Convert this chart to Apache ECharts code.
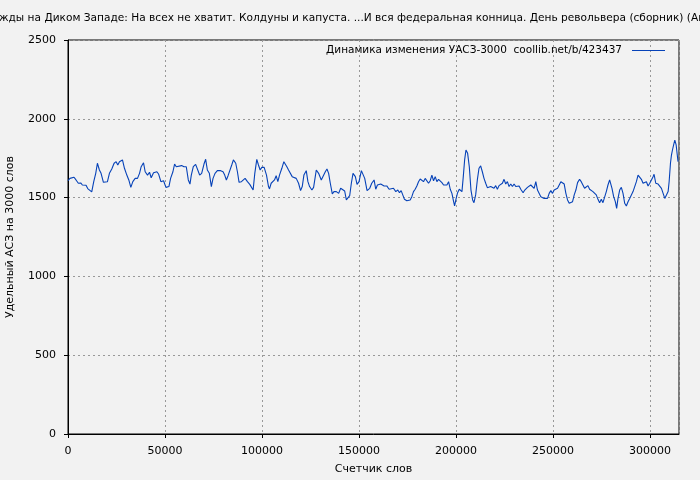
<!DOCTYPE html>
<html><head><meta charset="utf-8">
<script src="https://cdn.jsdelivr.net/npm/echarts@6/dist/echarts.min.js"></script>
<style>html,body{margin:0;padding:0;background:#f2f2f2}#c{width:700px;height:480px}</style>
</head><body><div id="c"></div>
<script>
const titleText = "жды на Диком Западе: На всех не хватит. Колдуны и капуста. ...И вся федеральная конница. День револьвера (сборник) (Ан";
const seriesName = "Динамика изменения УАСЗ-3000  coollib.net/b/423437";
const xAxisName = "Счетчик слов";
const yAxisName = "Удельный АСЗ на 3000 слов";
const xTickLabels = ["0","50000","100000","150000","200000","250000","300000"];
const yTickLabels = ["0","500","1000","1500","2000","2500"];

const wordCount = [0,1000,3100,4130,5340,6550,7410,8270,9300,10160,11020,12230,13270,14300,15160,16190,17050,18260,19120,20330,21360,22570,23770,24810,25670,26530,28080,29110,30320,31350,32390,33420,34630,35830,36870,37730,38930,39790,41000,42030,42890,44100,45820,46680,47890,49270,50480,
51160,52030,52890,54090,54950,55810,56680,58570,59780,60980,62020,62880,63570,64600,65800,66670,67870,68910,70110,70970,71840,72870,73900,74770,75800,77000,78720,79930,80790,81650,82520,83380,84410,85270,86480,87340,88200,89410,90440,91300,92510,93710,94580,95440,96300,97330,98190,99060,99920,101130,102330,103370,
103880,104740,105600,106460,107320,108180,109040,110250,111280,111970,112830,113700,114730,115590,116450,117660,118860,119900,120760,121620,122830,123690,124550,125750,126620,127480,128000,129200,130580,131440,132650,133510,134370,135230,136260,137120,138330,139540,140570,141430,142640,143500,144360,145220,146080,146940,148150,149010,150040,151250,152110,152970,154180,155560,
156590,157800,158660,159520,160380,161240,162100,162960,164340,165550,166580,167790,168990,170030,170890,171750,172610,173470,174680,176400,177260,178120,178980,179850,180710,181570,182430,183290,184150,185010,185880,186740,187600,188460,189320,190180,191040,191910,192770,193630,194490,195350,196210,197070,197930,198800,199310,200000,200860,201720,202590,203100,203790,204480,205170,206030,206890,207750,208610,209300,
210170,211030,211890,212750,213610,214470,215340,216200,217060,217920,218780,219640,220500,221360,222220,223090,223950,224810,225670,226530,227390,228250,229120,229980,230840,231700,232560,233420,234630,235490,236870,238590,239450,240310,241180,242040,242900,243760,244620,245480,246350,247210,248070,248930,249790,250650,251510,252380,253240,254100,254960,255820,256680,257540,258400,259260,260120,260980,261840,262700,
263740,264600,265460,266320,267190,268050,268910,269770,270630,271490,272350,273220,274080,274940,275800,276660,277520,278380,279240,279760,280450,281310,282170,282860,283550,284410,285270,286140,287000,287860,288720,289580,290440,291300,292170,293030,293890,294750,295610,296470,297330,298190,299050,299920,300780,301640,302150,303020,304220,305080,305950,306810,307670,308530,309390,309910,310600,311110,311630,312320,312840,313530,314500];

const uasz = [1607,1622,1629,1612,1591,1593,1580,1584,1578,1557,1559,1536,1601,1654,1718,1675,1654,1597,1591,1601,1654,1681,1718,1728,1707,1728,1739,1686,1643,1612,1565,1601,1622,1622,1654,1696,1721,1664,1643,1661,1626,1658,1664,1650,1601,1607,1565,
1555,1570,1622,1664,1713,1696,1701,1703,1696,1696,1612,1586,1643,1696,1711,1703,1643,1654,1713,1743,1675,1654,1570,1622,1654,1671,1671,1664,1643,1612,1639,1633,1707,1739,1718,1664,1597,1601,1601,1622,1601,1584,1576,1548,1654,1743,1707,1675,1692,1692,1643,1570,
1555,1591,1597,1612,1639,1601,1643,1686,1728,1739,1696,1675,1686,1633,1637,1622,1591,1544,1570,1643,1671,1601,1570,1548,1565,1633,1675,1654,1612,1601,1664,1681,1654,1591,1523,1538,1538,1527,1559,1559,1542,1485,1474,1512,1591,1654,1633,1584,1601,1671,1664,1622,1544,1559,
1591,1612,1553,1580,1570,1586,1595,1574,1574,1553,1565,1559,1538,1548,1531,1544,1538,1489,1480,1485,1506,1538,1553,1574,1601,1618,1612,1601,1622,1633,1591,1607,1643,1607,1633,1601,1616,1622,1595,1580,1570,1580,1601,1553,1527,1474,1447,1489,1531,1553,1559,1538,1633,1739,1802,1781,1696,1548,1485,1468,
1517,1612,1686,1701,1664,1622,1591,1563,1559,1570,1574,1559,1576,1553,1576,1580,1591,1616,1586,1601,1570,1586,1570,1586,1570,1580,1574,1553,1531,1548,1565,1580,1586,1559,1601,1548,1548,1506,1517,1495,1506,1495,1527,1544,1527,1548,1538,1559,1580,1601,1612,1586,1527,1485,1464,1464,1474,1517,1548,1595,
1616,1601,1580,1559,1559,1576,1553,1553,1538,1538,1517,1489,1468,1489,1468,1468,1538,1580,1612,1622,1559,1506,1474,1432,1495,1548,1565,1527,1464,1447,1474,1495,1517,1538,1548,1601,1643,1633,1616,1591,1580,1601,1574,1591,1601,1633,1648,1591,1586,1574,1559,1527,1495,1517,1538,1601,1718,1770,1802,1840,1865,1834,1728];

const lineData = wordCount.map((x, i) => [x, uasz[i]]);
const font = "DejaVu Sans";
const chart = echarts.init(document.getElementById('c'), null, {renderer: 'canvas'});
chart.setOption({
  backgroundColor: '#f2f2f2',
  animation: false,
  textStyle: {fontFamily: font},
  title: {
    text: titleText, left: -1, top: 13, padding: 0,
    textStyle: {fontFamily: font, fontSize: 10.6, fontWeight: 'normal', color: '#000'}
  },
  legend: {
    data: [seriesName], right: 35, top: 45, padding: 0, align: 'right',
    icon: 'rect', itemWidth: 33, itemHeight: 1,
    textStyle: {fontFamily: font, fontSize: 10.5, color: '#000', padding: [0, 5, 0, 0]}
  },
  grid: {left: 68, right: 21, top: 40, bottom: 46, show: true, borderColor: '#000', borderWidth: 1,
    backgroundColor: 'transparent', containLabel: false, outerBoundsMode: 'none'},
  xAxis: {
    type: 'value', min: 0, max: 315000, interval: 50000,
    name: xAxisName, nameLocation: 'middle', nameGap: 30,
    nameTextStyle: {fontFamily: font, fontSize: 11, color: '#000'},
    axisLine: {show: true, onZero: false, lineStyle: {color: '#000', width: 1}},
    axisTick: {show: true, inside: false, length: 4, lineStyle: {color: '#000'}},
    axisLabel: {fontFamily: font, fontSize: 11, color: '#000', margin: 12, showMaxLabel: false,
      formatter: v => { const i = Math.round(v / 50000); return (v % 50000 === 0 && xTickLabels[i] !== undefined) ? xTickLabels[i] : ''; }},
    splitLine: {show: true, lineStyle: {color: '#999', type: [2, 3], width: 1}}
  },
  yAxis: {
    type: 'value', min: 0, max: 2500, interval: 500,
    name: yAxisName, nameLocation: 'middle', nameGap: 52, nameRotate: 90,
    nameTextStyle: {fontFamily: font, fontSize: 11, color: '#000'},
    axisLine: {show: true, lineStyle: {color: '#000', width: 1}},
    axisTick: {show: true, inside: false, length: 4, lineStyle: {color: '#000'}},
    axisLabel: {fontFamily: font, fontSize: 11, color: '#000', margin: 12,
      formatter: v => yTickLabels[Math.round(v / 500)]},
    splitLine: {show: true, lineStyle: {color: '#999', type: [2, 3], width: 1}}
  },
  series: [{
    name: seriesName, type: 'line', data: lineData, showSymbol: false, symbol: 'none',
    lineStyle: {color: '#0642b8', width: 1.1}, itemStyle: {color: '#0642b8'}
  }]
});
</script></body></html>
